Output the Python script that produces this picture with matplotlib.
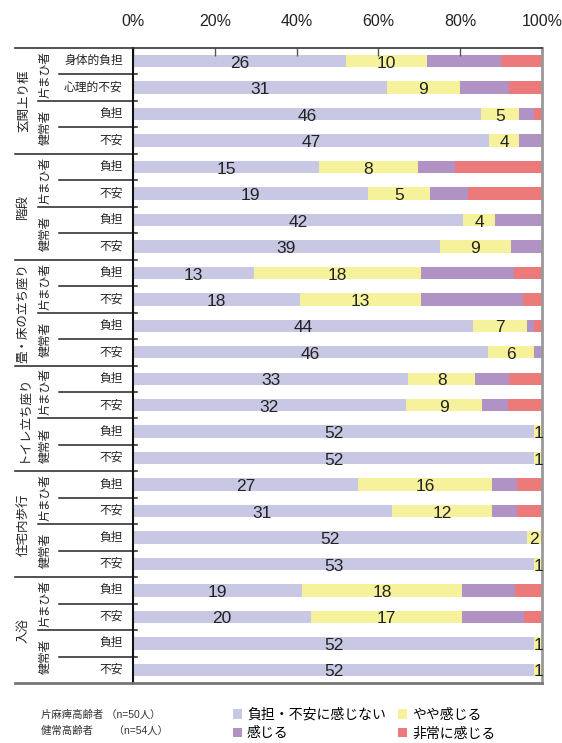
import matplotlib
matplotlib.use("Agg")
import matplotlib.pyplot as plt
import numpy as np

plt.rcParams['font.family'] = ['Liberation Sans', 'Noto Sans CJK JP', 'DejaVu Sans']

groups = ['玄関上り框', '階段', '畳・床の立ち座り', 'トイレ立ち座り', '住宅内歩行', '入浴']
subjects = ['片まひ者', '健常者']
row_labels = ['身体的負担', '心理的不安', '負担', '不安'] + ['負担', '不安'] * 10

# counts per answer (row totals differ because of missing answers)
none_ = [26, 31, 46, 47, 15, 19, 42, 39, 13, 18, 44, 46, 33, 32, 52, 52, 27, 31, 52, 53, 19, 20, 52, 52]
slight = [10, 9, 5, 4, 8, 5, 4, 9, 18, 13, 7, 6, 8, 9, 1, 1, 16, 12, 2, 1, 18, 17, 1, 1]
feel = [9, 6, 2, 3, 3, 3, 6, 4, 10, 11, 1, 1, 4, 3, 0, 0, 3, 3, 0, 0, 6, 7, 0, 0]
strong = [5, 4, 1, 0, 7, 6, 0, 0, 3, 2, 1, 0, 4, 4, 0, 0, 3, 3, 0, 0, 3, 2, 0, 0]

series_names = ['負担・不安に感じない', 'やや感じる', '感じる', '非常に感じる']
colors = ['#C8C8E4', '#F5F29B', '#B092C4', '#ED7A7A']
n_notes = ['片麻痺高齢者 （n=50人）', '健常高齢者　　（n=54人）']

counts = np.array([none_, slight, feel, strong], dtype=float)
pct = counts / counts.sum(axis=0) * 100

fig = plt.figure(figsize=(5.62, 7.43), dpi=100)
ax = fig.add_axes([133 / 562, 1 - 683 / 743, 409 / 562, 635 / 743])

y = np.arange(len(row_labels))
left = np.zeros(len(row_labels))
bars = []
for k in range(4):
    b = ax.barh(y, pct[k], left=left, height=0.47, color=colors[k], label=series_names[k])
    bars.append(b)
    if k < 2:
        for i in range(len(y)):
            if counts[k, i] > 0:
                ax.text(left[i] + pct[k, i] / 2, y[i] + 0.08, f"{int(counts[k, i])}",
                        ha='center', va='center', fontsize=12.5, color='#222222')
    left += pct[k]

ax.set_xlim(0, 100)
ax.set_ylim(len(y) - 0.5, -0.5)
ax.xaxis.tick_top()
ax.set_xticks([0, 20, 40, 60, 80, 100])
ax.set_xticklabels([f"{v}%" for v in [0, 20, 40, 60, 80, 100]], fontsize=11.5, color='#222222')
ax.tick_params(axis='x', direction='in', length=6, width=1, color='#555555', pad=14)
ax.set_yticks([])

ax.spines['left'].set_color('#111111')
ax.spines['left'].set_linewidth(1.5)
ax.spines['top'].set_color('#333333')
ax.spines['top'].set_linewidth(1.2)
ax.spines['right'].set_color('#999999')
ax.spines['right'].set_linewidth(2)
ax.spines['bottom'].set_color('#777777')
ax.spines['bottom'].set_linewidth(2)

tr = ax.get_yaxis_transform()
x_out = (15 - 133) / 409
x_sub = (38 - 133) / 409
x_row = (59 - 133) / 409
x_end = 4 / 409

# lines of the left label block
ax.plot([x_out, 0], [-0.5, -0.5], transform=tr, clip_on=False, color='#333333', lw=1.2)
ax.plot([x_out, 0], [len(y) - 0.5, len(y) - 0.5], transform=tr, clip_on=False, color='#777777', lw=2)
for b in np.arange(0.5, len(y) - 1, 1):
    if (b + 0.5) % 4 == 0:
        x0 = x_out
    elif (b + 0.5) % 2 == 0:
        x0 = x_sub
    else:
        x0 = x_row
    ax.plot([x0, x_end], [b, b], transform=tr, clip_on=False, color='#222222', lw=1.1)

for i, lab in enumerate(row_labels):
    ax.text(-0.025, y[i], lab, transform=tr, ha='right', va='center', fontsize=8.5, color='#222222')

for g, name in enumerate(groups):
    ax.text(-0.268, g * 4 + 1.5, name, transform=tr, rotation=90, ha='center', va='center',
            fontsize=9, color='#222222')
    for s, sub in enumerate(subjects):
        ax.text(-0.213, g * 4 + s * 2 + 0.5, sub, transform=tr, rotation=90, ha='center', va='center',
                fontsize=8.5, color='#222222')

fig.text(41 / 562, 1 - 715 / 743, n_notes[0], fontsize=7.5, color='#333333', va='center')
fig.text(41 / 562, 1 - 731 / 743, n_notes[1], fontsize=7.5, color='#333333', va='center')

fig.legend([bars[0], bars[2], bars[1], bars[3]],
           [series_names[0], series_names[2], series_names[1], series_names[3]],
           ncol=2, loc='upper left', bbox_to_anchor=(233 / 562, 1 - 708 / 743),
           frameon=False, fontsize=10, handlelength=0.65, handleheight=0.65,
           handletextpad=0.35, columnspacing=0.9, labelspacing=0.32, borderpad=0, borderaxespad=0)

fig.savefig("out.png", dpi=100)
